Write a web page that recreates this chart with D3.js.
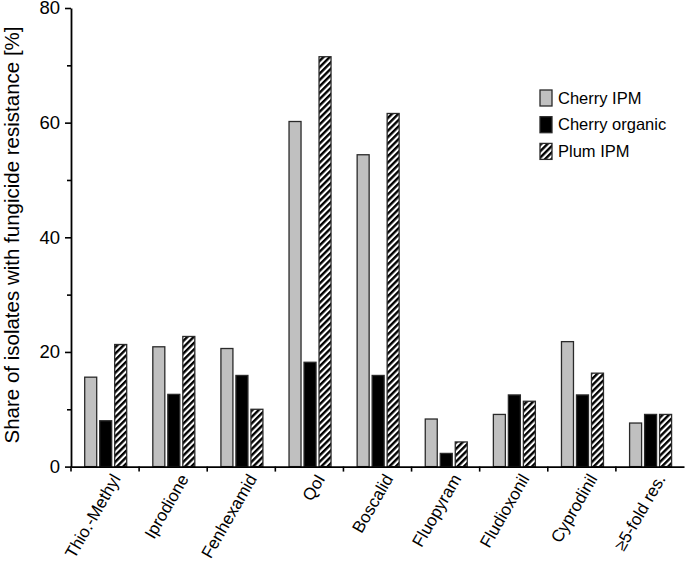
<!DOCTYPE html>
<html>
<head>
<meta charset="utf-8">
<script src="https://cdn.jsdelivr.net/npm/d3@7"></script>
<style>
  body { margin: 0; background: #fff; }
  svg { display: block; font-family: 'Liberation Sans', Arial, sans-serif; }
</style>
</head>
<body>
<div id="chart"></div>
<script>
// categories and values
var categories = ['Thio.-Methyl', 'Iprodione', 'Fenhexamid', 'QoI', 'Boscalid', 'Fluopyram', 'Fludioxonil', 'Cyprodinil', '\u22655-fold res.']
var seriesNames = ['Cherry IPM', 'Cherry organic', 'Plum IPM']
var cherryIPM = [15.6, 20.9, 20.6, 60.2, 54.4, 8.3, 9.1, 21.8, 7.6]
var cherryOrganic = [8.0, 12.6, 15.9, 18.2, 15.9, 2.3, 12.5, 12.5, 9.1]
var plumIPM = [21.3, 22.7, 10.0, 71.5, 61.6, 4.3, 11.4, 16.3, 9.1]
var yTicks = [0, 20, 40, 60, 80]
var yMinorTicks = [10, 30, 50, 70]

var margin = { top: 8, right: 1, bottom: 99.4, left: 71 }
var width = 685 - margin.left - margin.right
var height = 566 - margin.top - margin.bottom

var svg = d3.select('#chart')
  .append('svg')
  .attr('width', 685)
  .attr('height', 566)

var defs = svg.append('defs')
var pat = defs.append('pattern')
  .attr('id', 'hatch')
  .attr('patternUnits', 'userSpaceOnUse')
  .attr('width', 4.5)
  .attr('height', 4.5)
  .attr('patternTransform', 'rotate(45)')
pat.append('rect').attr('width', 4.5).attr('height', 4.5).attr('fill', '#fff')
pat.append('rect').attr('width', 2.4).attr('height', 4.5).attr('fill', '#000')

var g = svg.append('g')
  .attr('transform', 'translate(' + margin.left + ',' + margin.top + ')')

var x0 = d3.scaleBand().domain(categories).range([0, width])
var x1 = d3.scaleBand().domain(seriesNames).range([13.7, 55.7]).paddingInner(0.2)
var y = d3.scaleLinear().domain([0, 80]).range([height, 0])
var fills = d3.scaleOrdinal().domain(seriesNames).range(['#c0c0c0', '#000', 'url(#hatch)'])

var rows = categories.map(function (c, i) {
  return { cat: c, vals: [cherryIPM[i], cherryOrganic[i], plumIPM[i]] }
})

var groups = g.selectAll('.grp')
  .data(rows)
  .enter()
  .append('g')
  .attr('class', 'grp')
  .attr('transform', function (d) { return 'translate(' + x0(d.cat) + ',0)' })

groups.selectAll('rect')
  .data(function (d) { return d.vals.map(function (v, j) { return { s: seriesNames[j], v: v } }) })
  .enter()
  .append('rect')
  .attr('x', function (d) { return x1(d.s) })
  .attr('width', x1.bandwidth())
  .attr('y', function (d) { return y(d.v) })
  .attr('height', function (d) { return height - y(d.v) })
  .attr('fill', function (d) { return fills(d.s) })
  .attr('stroke', '#2a2a2a')
  .attr('stroke-width', 1.3)

// y axis
var yAxis = g.append('g')
  .call(d3.axisLeft(y).tickValues(yTicks).tickSize(6).tickSizeOuter(0))
yAxis.selectAll('text').attr('font-size', 18.5).attr('font-family', 'Liberation Sans, Arial, sans-serif').attr('dx', '-2')
yAxis.select('.domain').attr('stroke-width', 1.8)
yAxis.selectAll('.tick line').attr('stroke-width', 1.6)
g.append('g')
  .call(d3.axisLeft(y).tickValues(yMinorTicks).tickSize(4).tickFormat(''))
  .call(function (a) { a.select('.domain').remove() })
  .selectAll('line').attr('stroke-width', 1.6)

// x axis with ticks between categories
var xAxis = g.append('g')
  .attr('transform', 'translate(0,' + height + ')')
  .call(d3.axisBottom(x0).tickSize(0).tickSizeOuter(0))
xAxis.select('.domain').attr('stroke-width', 1.8)
xAxis.selectAll('text')
  .attr('font-size', 17)
  .attr('font-family', 'Liberation Sans, Arial, sans-serif')
  .attr('text-anchor', 'end')
  .attr('dy', '0.35em')
  .attr('transform', 'translate(11,9) rotate(-60)')
  .attr('y', 0)
g.append('g')
  .selectAll('line')
  .data(categories)
  .enter()
  .append('line')
  .attr('x1', function (d) { return x0(d) })
  .attr('x2', function (d) { return x0(d) })
  .attr('y1', height)
  .attr('y2', height + 5)
  .attr('stroke', '#000')
  .attr('stroke-width', 1.6)

// y title
svg.append('text')
  .attr('transform', 'translate(19,235) rotate(-90)')
  .attr('text-anchor', 'middle')
  .attr('font-size', 20.5)
  .text('Share of isolates with fungicide resistance [%]')

// legend
var legend = svg.append('g').attr('transform', 'translate(540,90)')
var items = legend.selectAll('g')
  .data(seriesNames)
  .enter()
  .append('g')
  .attr('transform', function (d, i) { return 'translate(0,' + i * 26.7 + ')' })
items.append('rect')
  .attr('width', 12)
  .attr('height', 16)
  .attr('fill', function (d) { return fills(d) })
  .attr('stroke', '#2a2a2a')
  .attr('stroke-width', 1.3)
items.append('text')
  .attr('x', 18)
  .attr('y', 8)
  .attr('dy', '0.35em')
  .attr('font-size', 16.5)
  .text(function (d) { return d })
</script>
</body>
</html>
